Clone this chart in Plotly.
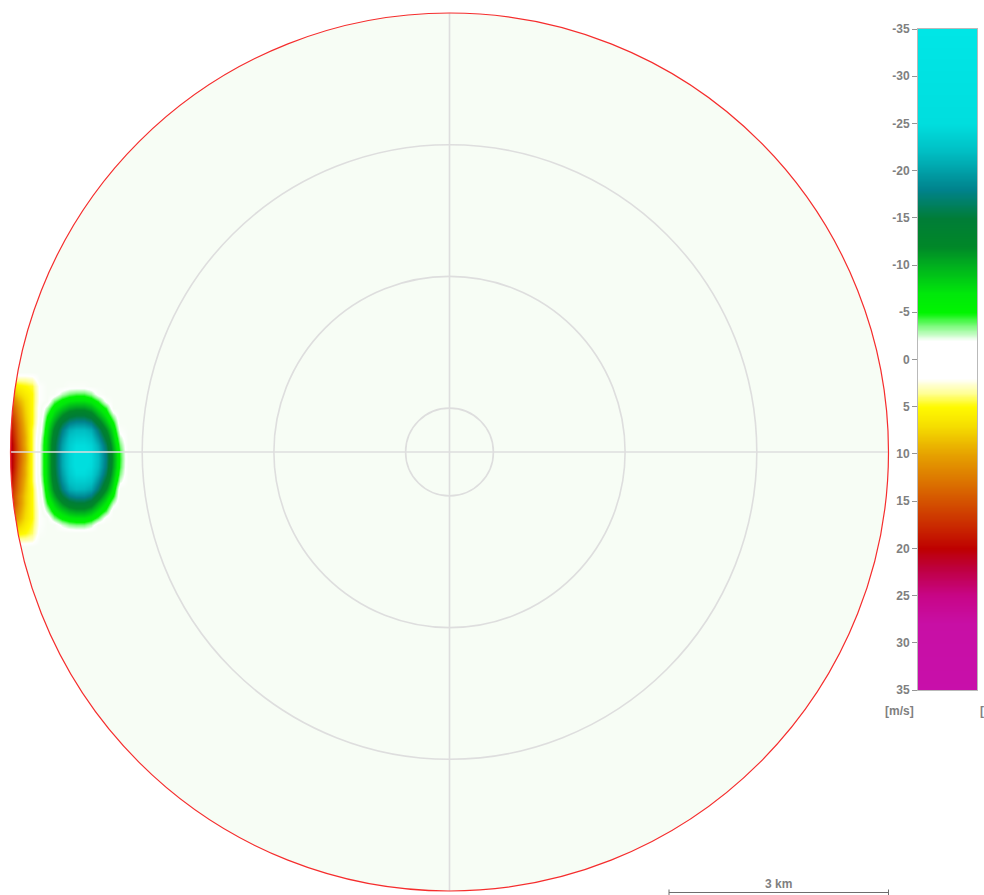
import numpy as np
import plotly.graph_objects as go

# ---------------- data ----------------
# grid of the velocity field (km east / km north of the radar)
x_km = [-6.1, -6.0, -5.9, -5.8, -5.7, -5.6, -5.5, -5.4, -5.3, -5.2,
        -5.1, -5.0, -4.9, -4.8, -4.7, -4.6, -4.5, -4.4, -4.3]
y_km = [1.1, 1.0, 0.9, 0.8, 0.7, 0.6, 0.5, 0.4, 0.3, 0.2, 0.1, 0.0,
        -0.1, -0.2, -0.3, -0.4, -0.5, -0.6, -0.7, -0.8, -0.9, -1.0, -1.1, -1.2, -1.3]

# radial velocity [m/s] (rows follow y_km, columns follow x_km)
velocity = [
    [0, 0, 0, 0, 0, 0, 0, 0, 0, 0, 0, 0, 0, 0, 0, 0, 0, 0, 0],
    [3, 3, 3, 3, 2.5, 0, 0, 0, 0, 0, 0, 0, 0, 0, 0, 0, 0, 0, 0],
    [8, 7, 5.5, 5, 4.5, 1, 0, 0, 0, -0.5, -0.5, -0.5, 0, 0, 0, 0, 0, 0, 0],
    [12, 10, 7.5, 6, 5, 1, 0, -0.3, -2.5, -3.6, -4.1, -4.1, -3.1, -0.7, 0, 0, 0, 0, 0],
    [15, 13, 9.5, 7, 5, 1, 0, -3.7, -5.8, -6.9, -7.3, -7.3, -6.5, -4.5, -1.0, 0, 0, 0, 0],
    [17, 15, 11, 7.5, 5, 0.5, -2.7, -6.3, -8.6, -10.3, -11, -11, -9.8, -7.3, -4.5, 0, 0, 0, 0],
    [19, 17, 12, 8, 5, 0.5, -4.8, -8.5, -12.1, -14.4, -15.3, -15.3, -13.9, -10.5, -7, -2.9, 0, 0, 0],
    [20, 18, 13, 8.5, 5, 0, -6.1, -10.6, -15.2, -17.9, -18.9, -18.9, -17.7, -13.9, -9.3, -5.2, 0, 0, 0],
    [22, 19, 13.5, 9, 4.5, -0.5, -7, -12.5, -17.7, -21, -22, -22, -21, -17.2, -12, -7, -0.8, 0, 0],
    [23, 20, 14, 9.5, 4.5, -1.5, -7.7, -13.7, -19.1, -22.5, -23.6, -23.7, -22.7, -19.3, -14.4, -8.4, -2.4, 0, 0],
    [23, 21, 14.5, 9.5, 4.5, -2, -8, -14.4, -20, -23.3, -24.8, -24.8, -24, -21, -16.2, -9.6, -3.5, 0, 0],
    [24, 21, 15, 10, 4.5, -2, -8.1, -14.6, -20.5, -23.7, -25.3, -25.3, -24.6, -21.8, -17.2, -10.5, -4.3, 0, 0],
    [24, 21, 15, 10, 4.5, -2, -8.1, -14.6, -20.6, -23.7, -25.4, -25.4, -24.8, -22.1, -17.5, -10.8, -4.5, 0, 0],
    [23, 21, 14.5, 9.5, 4.5, -2, -8.1, -14.6, -20.5, -23.7, -25.3, -25.2, -24.6, -21.8, -17.1, -10.4, -4.2, 0, 0],
    [23, 20, 14, 9.5, 4.5, -2, -8, -14.3, -19.9, -23.2, -24.8, -24.8, -23.9, -20.8, -16, -9.5, -3.4, 0, 0],
    [22, 19, 13.5, 9, 4.5, -1.5, -7.7, -13.6, -19, -22.4, -23.5, -23.5, -22.6, -19.1, -14.2, -8.3, -2.2, 0, 0],
    [21, 18, 13, 8.5, 5, -0.5, -7, -12.4, -17.5, -20.8, -21.8, -21.6, -20.6, -17, -11.8, -6.8, 0, 0, 0],
    [20, 17, 12, 8, 5, 0, -6, -10.4, -15, -17.7, -18.6, -18.6, -17.4, -13.7, -9.1, -5.1, 0, 0, 0],
    [19, 17, 12, 8, 5, 0.5, -4.6, -8.2, -11.8, -14, -14.9, -14.9, -13.6, -10.2, -6.8, -2.6, 0, 0, 0],
    [17, 15, 11, 7.5, 5, 1, -2.5, -6.1, -8.4, -10, -10.7, -10.7, -9.5, -7.1, -4.2, 0, 0, 0, 0],
    [15, 13, 10, 7, 5, 1, 0, -3.4, -5.6, -6.6, -7, -7, -6.2, -4.1, -0.7, 0, 0, 0, 0],
    [12, 10, 8, 6, 4.5, 1, 0, 0, -2, -3.1, -3.5, -3.5, -2.5, 0, 0, 0, 0, 0, 0],
    [7, 6, 5.5, 5, 4, 0.5, 0, 0, 0, 0, 0, 0, 0, 0, 0, 0, 0, 0, 0],
    [3, 3, 3, 3, 2.5, 0, 0, 0, 0, 0, 0, 0, 0, 0, 0, 0, 0, 0, 0],
    [0, 0, 0, 0, 0, 0, 0, 0, 0, 0, 0, 0, 0, 0, 0, 0, 0, 0, 0],
]

colorbar_ticks = [-35, -30, -25, -20, -15, -10, -5, 0, 5, 10, 15, 20, 25, 30, 35]
colorbar_labels = ["-35", "-30", "-25", "-20", "-15", "-10", "-5", "0",
                   "5", "10", "15", "20", "25", "30", "35"]
ring_radii_km = [0.6, 2.4, 4.2]
max_range_km = 6.0
scale_bar_km = 3.0
scale_label = "3 km"
unit_label = "[m/s]"

# ---------------- styling ----------------
VMIN, VMAX = -35, 35
BG = "rgb(247,253,245)"
cs_vals = [-35, -25, -22, -18, -15, -12, -10, -7, -5, -3.5, -2, 2, 3.5, 5, 7, 10, 15, 18, 20, 22, 25, 28, 35]
cs_cols = ["rgb(0,230,230)", "rgb(0,222,222)", "rgb(0,190,195)", "rgb(0,130,140)",
           "rgb(0,125,55)", "rgb(0,135,40)", "rgb(0,175,30)", "rgb(0,232,10)",
           "rgb(0,245,0)", "rgb(130,250,130)", "rgb(255,255,255)", "rgb(255,255,255)",
           "rgb(255,255,150)", "rgb(255,250,0)", "rgb(245,222,0)", "rgb(230,162,0)",
           "rgb(212,82,0)", "rgb(200,35,0)", "rgb(190,0,0)", "rgb(190,0,60)",
           "rgb(200,5,135)", "rgb(200,15,165)", "rgb(200,15,170)"]


def norm(v):
    return (v - VMIN) / (VMAX - VMIN)


bar_scale = [[norm(v), c] for v, c in zip(cs_vals, cs_cols)]
# field scale: exact zero (no echo) blends with the display background
field_pairs = [(v, c) for v, c in zip(cs_vals, cs_cols) if abs(v) != 2]
field_pairs += [(-1.5, "rgb(255,255,255)"), (0, BG), (1.5, "rgb(255,255,255)")]
field_pairs.sort(key=lambda p: p[0])
field_scale = [[norm(v), c] for v, c in field_pairs]

W, H = 984, 895
CX, CY = 449.5, 452.0          # radar centre in pixels
PX = 439.0 / max_range_km       # pixels per km

fig = go.Figure()

fig.add_trace(go.Heatmap(
    x=x_km, y=y_km, z=velocity, zmin=VMIN, zmax=VMAX,
    colorscale=field_scale, zsmooth="best", showscale=False, hoverinfo="skip",
    xaxis="x", yaxis="y"))

# colour bar drawn as a heatmap on its own axis
bar_vals = np.linspace(VMIN, VMAX, 281)
fig.add_trace(go.Heatmap(
    x=[0, 1], y=bar_vals, z=[[v, v] for v in bar_vals], zmin=VMIN, zmax=VMAX,
    colorscale=bar_scale, zsmooth="best", showscale=False, hoverinfo="skip",
    xaxis="x2", yaxis="y2"))

shapes = []
R = max_range_km
shapes.append(dict(type="circle", xref="x", yref="y", x0=-R, y0=-R, x1=R, y1=R,
                   fillcolor=BG, line=dict(width=0), layer="below"))
# mask the part of the field outside the display circle
ys = np.linspace(1.6, -1.6, 60)
pts = ["M -7,1.6"] + [f"L {-np.sqrt(R**2 - y**2):.4f},{y:.4f}" for y in ys] + ["L -7,-1.6 Z"]
shapes.append(dict(type="path", xref="x", yref="y", path=" ".join(pts),
                   fillcolor="white", line=dict(width=0), layer="above"))
grid_col = "rgb(222,222,222)"
for r in ring_radii_km:
    shapes.append(dict(type="circle", xref="x", yref="y", x0=-r, y0=-r, x1=r, y1=r,
                       line=dict(color=grid_col, width=1.6), layer="above"))
shapes.append(dict(type="line", xref="x", yref="y", x0=0, y0=-R, x1=0, y1=R,
                   line=dict(color=grid_col, width=1.6), layer="above"))
shapes.append(dict(type="line", xref="x", yref="y", x0=-R, y0=0, x1=R, y1=0,
                   line=dict(color=grid_col, width=1.6), layer="above"))
shapes.append(dict(type="circle", xref="x", yref="y", x0=-R, y0=-R, x1=R, y1=R,
                   line=dict(color="rgb(245,45,45)", width=1.2), layer="above"))

# scale bar
sb_y = 1 - 892.5 / H
sb_t = 1 - 889.5 / H
sb_b = 1 - 895.0 / H
x_end = R
x_start = R - scale_bar_km
bar_col = "rgb(110,110,110)"
shapes.append(dict(type="line", xref="x", yref="paper", x0=x_start, x1=x_end, y0=sb_y, y1=sb_y,
                   line=dict(color=bar_col, width=1)))
for xx in (x_start, x_end):
    shapes.append(dict(type="line", xref="x", yref="paper", x0=xx, x1=xx, y0=sb_b, y1=sb_t,
                       line=dict(color=bar_col, width=1)))

label_font = dict(family="Liberation Sans, Arial, sans-serif", size=12,
                  color="rgb(128,128,128)", weight="bold")

annotations = [
    dict(x=(x_start + x_end) / 2, y=1 - 884 / H, xref="x", yref="paper", text=scale_label,
         showarrow=False, font=label_font, xanchor="center", yanchor="middle"),
    dict(x=899 / W, y=1 - 711 / H, xref="paper", yref="paper", text=unit_label,
         showarrow=False, font=label_font, xanchor="center", yanchor="middle"),
    dict(x=978 / W, y=1 - 711 / H, xref="paper", yref="paper", text="[",
         showarrow=False, font=label_font, xanchor="left", yanchor="middle"),
]

fig.update_layout(
    template="none",
    width=W, height=H, autosize=False,
    margin=dict(l=0, r=0, t=0, b=0, pad=0, autoexpand=False),
    paper_bgcolor="white", plot_bgcolor="rgba(0,0,0,0)", showlegend=False,
    xaxis=dict(domain=[0, 1], range=[-CX / PX, (W - CX) / PX], visible=False,
               fixedrange=True, automargin=False),
    yaxis=dict(domain=[0, 1], range=[-(H - CY) / PX, CY / PX], visible=False,
               fixedrange=True, automargin=False),
    xaxis2=dict(domain=[918 / W, 977 / W], range=[-0.5, 1.5], anchor="y2",
                showticklabels=False, showgrid=False, zeroline=False, ticks="",
                showline=True, mirror=True, linecolor="rgb(185,185,185)", linewidth=1,
                fixedrange=True, automargin=False),
    yaxis2=dict(domain=[1 - 690 / H, 1 - 29 / H], range=[VMAX, VMIN], anchor="x2",
                tickmode="array", tickvals=colorbar_ticks, ticktext=colorbar_labels,
                ticks="outside", ticklen=5, tickwidth=1, tickcolor="rgb(150,150,150)",
                tickfont=label_font, showgrid=False, zeroline=False,
                showline=True, mirror=True, linecolor="rgb(185,185,185)", linewidth=1,
                fixedrange=True, automargin=False),
    shapes=shapes, annotations=annotations,
)

fig.write_html(
    "out.html",
    config={"displayModeBar": False, "responsive": False},
    post_script="document.body.style.margin='0';document.body.style.overflow='hidden';",
)
